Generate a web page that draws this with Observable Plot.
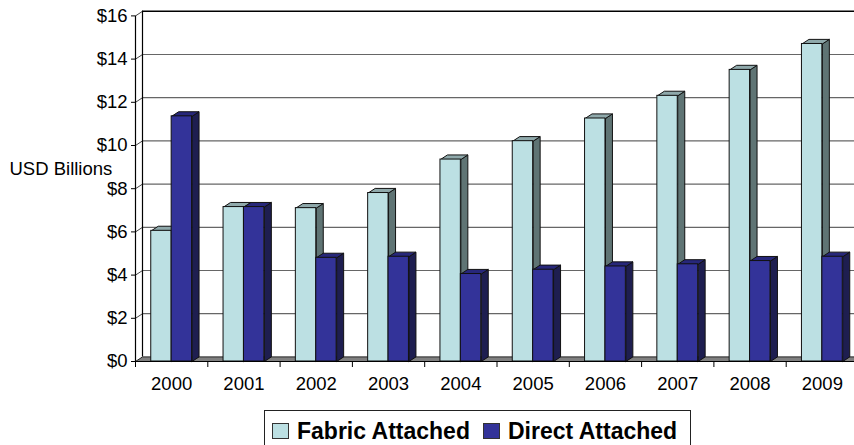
<!DOCTYPE html>
<html>
<head>
<meta charset="utf-8">
<script src="https://cdn.jsdelivr.net/npm/d3@7"></script>
<script src="https://cdn.jsdelivr.net/npm/@observablehq/plot@0.6"></script>
<style>
  html, body { margin: 0; padding: 0; background: white; }
  body { width: 854px; height: 445px; overflow: hidden; position: relative; font-family: "Liberation Sans", Arial, sans-serif; }
  #legend { position: absolute; left: 264px; top: 410px; width: 427px; height: 42px; box-sizing: border-box;
            border: 1px solid #222; display: flex; align-items: center; padding-left: 7px;
            font: bold 23px "Liberation Sans", Arial, sans-serif; color: #000; white-space: nowrap; }
  #legend .sw { display: inline-block; width: 15px; height: 14px; border: 1px solid #333; margin-right: 8px; }
  #legend .item { display: flex; align-items: center; }
  #legend .item + .item { margin-left: 13px; }
</style>
</head>
<body>
<div id="chart"></div>
<div id="legend"></div>
<script>
// ---- data ----
const years = ["2000","2001","2002","2003","2004","2005","2006","2007","2008","2009"];
const fabric = [6.05, 7.15, 7.1, 7.8, 9.35, 10.2, 11.25, 12.3, 13.5, 14.7];
const direct = [11.35, 7.15, 4.8, 4.85, 4.05, 4.25, 4.4, 4.5, 4.65, 4.85];
const seriesNames = ["Fabric Attached", "Direct Attached"];
const yTicks = [0, 2, 4, 6, 8, 10, 12, 14, 16];
const yLabel = "USD Billions";

// ---- styles ----
const colors = {
  fabric: {front: "#bce0e3", top: "#8fa9ab", side: "#5f7474"},
  direct: {front: "#333399", top: "#27277a", side: "#1e1e50"}
};
const xRange = [135, 858], yRange = [361, 15.4];
const pxPerX = (xRange[1] - xRange[0]) / years.length;
const pxPerY = (yRange[0] - yRange[1]) / 16;
const DX = 7 / pxPerX;      // depth offset, x units
const DY = 4.6 / pxPerY;    // depth offset, y units
const BW = 20.4 / pxPerX;   // bar width, x units

// ---- build geometry from data ----
function bars(values, key) {
  return values.map((v, i) => {
    const c = i + 0.5;
    const x1 = key === "fabric" ? c - BW : c;
    const x2 = key === "fabric" ? c : c + BW;
    return {key, i, v, x1, x2};
  });
}
const fb = bars(fabric, "fabric"), db = bars(direct, "direct");
function sidePoly(b) {
  return [[b.x2, 0], [b.x2, b.v], [b.x2 + DX, b.v + DY], [b.x2 + DX, DY], [b.x2, 0]]
    .map(([x, y]) => ({x, y, id: b.key + b.i}));
}
function topPoly(b) {
  return [[b.x1, b.v], [b.x1 + DX, b.v + DY], [b.x2 + DX, b.v + DY], [b.x2, b.v], [b.x1, b.v]]
    .map(([x, y]) => ({x, y, id: b.key + b.i}));
}
const n = years.length;
const floor = [[0, 0], [DX, DY], [n + DX, DY], [n, 0], [0, 0]].map(([x, y]) => ({x, y}));

function barMarks(list, key) {
  const c = colors[key];
  return [
    Plot.line(list.flatMap(sidePoly), {x: "x", y: "y", z: "id", fill: c.side, stroke: "#111", strokeWidth: 1}),
    Plot.line(list.flatMap(topPoly), {x: "x", y: "y", z: "id", fill: c.top, stroke: "#111", strokeWidth: 1}),
    Plot.rect(list, {x1: "x1", x2: "x2", y1: 0, y2: "v", fill: c.front, stroke: "#111", strokeWidth: 1})
  ];
}

const plot = Plot.plot({
  width: 854,
  height: 400,
  marginLeft: 135, marginRight: 0, marginTop: 11, marginBottom: 39,
  x: {domain: [0, n], range: xRange},
  y: {domain: [0, 16], range: yRange},
  style: {fontFamily: "'Liberation Sans', Arial, sans-serif", fontSize: "18.5px", color: "#000", background: "white", overflow: "hidden"},
  marks: [
    // floor
    Plot.line(floor, {x: "x", y: "y", fill: "#808080", stroke: "#222", strokeWidth: 1}),
    // back wall gridlines
    Plot.ruleY(yTicks.slice(1, -1), {x1: DX, x2: n + DX, y: d => d + DY, stroke: "#666", strokeWidth: 1.2}),
    Plot.ruleY([16], {x1: DX, x2: n + DX, y: d => d + DY, stroke: "#000", strokeWidth: 1.5}),
    // side wall gridlines
    Plot.link(yTicks.slice(1), {x1: 0, y1: d => d, x2: DX, y2: d => d + DY, stroke: "#444", strokeWidth: 1}),
    // back wall left edge
    Plot.ruleX([DX], {y1: DY, y2: 16 + DY, stroke: "#000", strokeWidth: 1.2}),
    // bars
    ...barMarks(fb, "fabric"),
    ...barMarks(db, "direct"),
    // front axes
    Plot.ruleX([0], {y1: 0, y2: 16, stroke: "#000", strokeWidth: 1.2}),
    Plot.ruleY([0], {x1: 0, x2: n, stroke: "#000", strokeWidth: 1.2}),
    Plot.axisY({ticks: yTicks, tickSize: 4, tickPadding: 4, tickFormat: d => "$" + d, label: null, fontSize: 18.5}),
    Plot.axisX({ticks: d3.range(0, n + 1), tickSize: 6, tickFormat: () => "", label: null}),
    Plot.axisX({ticks: d3.range(n).map(i => i + 0.5), tickSize: 0, tickPadding: 15,
                tickFormat: d => years[Math.floor(d)], label: null, fontSize: 18.5}),
    Plot.text([yLabel], {frameAnchor: "top-left", dx: -126, dy: 157.5, textAnchor: "start", lineAnchor: "middle", fontSize: 18.5, fill: "#000"})
  ]
});
document.getElementById("chart").appendChild(plot);

// legend
const legend = document.getElementById("legend");
seriesNames.forEach((name, k) => {
  const item = document.createElement("span");
  item.className = "item";
  const sw = document.createElement("span");
  sw.className = "sw";
  sw.style.background = k === 0 ? colors.fabric.front : colors.direct.front;
  item.appendChild(sw);
  item.appendChild(document.createTextNode(name));
  legend.appendChild(item);
});
</script>
</body>
</html>
